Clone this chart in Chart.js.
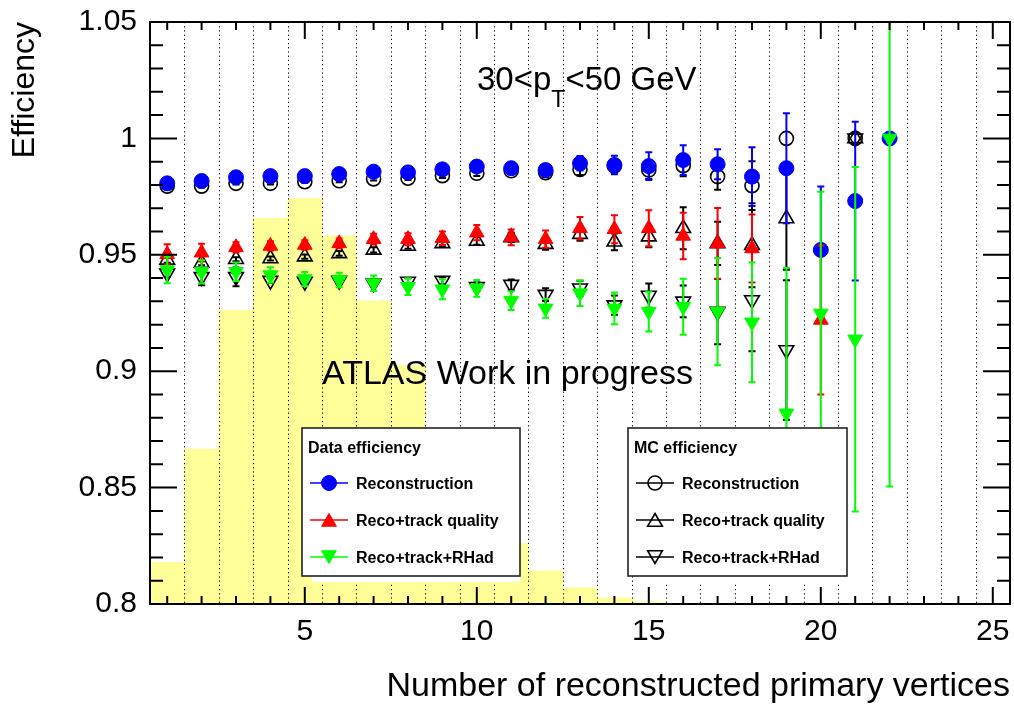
<!DOCTYPE html>
<html>
<head>
<meta charset="utf-8">
<script src="https://cdn.jsdelivr.net/npm/chart.js@4.4.1/dist/chart.umd.min.js"></script>
<style>
html, body { margin: 0; padding: 0; background: #fff; }
</style>
</head>
<body>
<canvas id="Plot" width="1014" height="707"></canvas>
<script>
// number of reconstructed primary vertices
var nvtx = [1,2,3,4,5,6,7,8,9,10,11,12,13,14,15,16,17,18,19,20,21,22];

// yellow background histogram (drawn in efficiency units, like on the plot)
var histBins = [1,2,3,4,5,6,7,8,9,10,11,12,13,14,15];
var histVal = [0.8179,0.8666,0.9263,0.9657,0.9741,0.9581,0.9302,0.9025,0.862,0.843,0.826,0.8142,0.8070,0.8027,0.8009];

// data efficiency
var dataReco = [0.9807,0.9817,0.9833,0.9838,0.9838,0.9847,0.9857,0.9854,0.9867,0.9879,0.9872,0.9864,0.9893,0.9886,0.9881,0.9907,0.9889,0.9836,0.9872,0.9521,0.9731,1.0];
var dataRecoErr = [0.0015,0.0013,0.0012,0.0012,0.0012,0.0013,0.0014,0.0015,0.0017,0.0019,0.0022,0.0026,0.0031,0.0040,0.0060,0.0064,0.0064,0.0126,0.0236,0.0272,0.0341,0];
var dataQual = [0.9502,0.9509,0.9532,0.9538,0.9542,0.9549,0.9567,0.9567,0.9571,0.9595,0.9575,0.9567,0.9614,0.9610,0.9614,0.9581,0.9549,0.9527,null,0.9220,null,null];
var dataQualErr = [0.0043,0.0038,0.0022,0.0020,0.0020,0.0021,0.0023,0.0026,0.0029,0.0033,0.0034,0.0037,0.0048,0.0060,0.0077,0.0100,0.0152,0.0146,null,0.0320,null,null];
var dataRhad = [0.9435,0.9427,0.9427,0.9413,0.9396,0.9392,0.9378,0.9363,0.9352,0.9356,0.9303,0.9270,0.9335,0.9270,0.9256,0.9277,0.9256,0.9210,0.8819,0.9248,0.9137,1.0];
var dataRhadErr = [0.0057,0.0050,0.0040,0.0033,0.0030,0.0031,0.0033,0.0036,0.0043,0.0036,0.0040,0.0040,0.0055,0.0068,0.0085,0.0120,0.0230,0.0257,0.0624,0.0523,0.0740,0.1495];

// MC efficiency
var mcReco = [0.9795,0.9795,0.9807,0.9807,0.9814,0.9818,0.9826,0.9829,0.9840,0.9850,0.9861,0.9853,0.9867,0.9881,0.9864,0.9883,0.9836,0.9797,1.0,null,1.0,null];
var mcRecoErr = [0.0008,0.0006,0.0005,0.0005,0.0005,0.0006,0.0007,0.0008,0.0010,0.0012,0.0015,0.0019,0.0024,0.0030,0.0038,0.0046,0.0057,0.0105,0,null,0,null];
var mcQual = [0.9478,0.9465,0.9481,0.9484,0.9492,0.9506,0.9521,0.9538,0.9549,0.9559,0.9575,0.9546,0.9589,0.9556,0.9578,0.9614,0.9549,0.9541,0.9656,null,1.0,null];
var mcQualErr = [0.0012,0.0010,0.0009,0.0009,0.0009,0.0010,0.0011,0.0012,0.0014,0.0016,0.0020,0.0024,0.0029,0.0036,0.0046,0.0090,0.0093,0.0180,0.0220,null,0,null];
var mcRhad = [0.9420,0.9405,0.9405,0.9389,0.9385,0.9389,0.9378,0.9385,0.9389,0.9363,0.9372,0.9329,0.9356,0.9284,0.9325,0.9300,0.9256,0.9306,0.9091,null,1.0,null];
var mcRhadErr = [0.0014,0.0036,0.0040,0.0010,0.0011,0.0012,0.0013,0.0014,0.0016,0.0018,0.0022,0.0027,0.0033,0.0041,0.0052,0.0068,0.0140,0.0220,0.0300,null,0,null];

var xTickLabels = [5,10,15,20,25];
var yTickLabels = [0.8,0.85,0.9,0.95,1,1.05];

var FONT = "'Liberation Sans', Arial, Helvetica, sans-serif";

function points(vals, errs){
  var out = [];
  for (var i = 0; i < vals.length; i++) {
    if (vals[i] === null) continue;
    out.push({x: nvtx[i], y: vals[i], e: errs[i]});
  }
  return out;
}

function series(vals, errs, color, style, rot, filled, order, radius){
  return {
    type: 'line',
    data: points(vals, errs),
    showLine: false,
    order: order,
    errColor: color,
    pointStyle: style,
    pointRotation: rot,
    pointRadius: radius,
    pointHoverRadius: radius,
    pointBackgroundColor: filled ? color : 'rgba(0,0,0,0)',
    pointBorderColor: color,
    pointBorderWidth: filled ? 1 : 1.6
  };
}

function drawMarker(ctx, style, x, y, r, rot, fill, stroke, lw){
  ctx.save();
  ctx.beginPath();
  if (style === 'circle') {
    ctx.arc(x, y, r, 0, Math.PI*2);
  } else {
    var a = rot*Math.PI/180;
    for (var k = 0; k < 3; k++) {
      var px = x + Math.sin(a)*r, py = y - Math.cos(a)*r;
      if (k === 0) ctx.moveTo(px, py); else ctx.lineTo(px, py);
      a += Math.PI*2/3;
    }
    ctx.closePath();
  }
  if (fill) { ctx.fillStyle = fill; ctx.fill(); }
  ctx.lineWidth = lw;
  ctx.strokeStyle = stroke;
  ctx.stroke();
  ctx.restore();
}

// no extra room for overhanging labels, the frame sits where ROOT put it
function noPad(s){
  s.paddingTop = 0; s.paddingBottom = 0; s.paddingLeft = 0; s.paddingRight = 0;
}

// error bars under each graph's markers
var errorBars = {
  id: 'errorBars',
  beforeDatasetDraw: function(chart, args){
    var ds = chart.data.datasets[args.index];
    if (!ds.errColor) return;
    var ctx = chart.ctx, a = chart.chartArea;
    var xs = chart.scales.x, ys = chart.scales.y;
    ctx.save();
    ctx.beginPath();
    ctx.rect(a.left, a.top, a.right - a.left, a.bottom - a.top);
    ctx.clip();
    ctx.strokeStyle = ds.errColor;
    ctx.lineWidth = 2;
    ds.data.forEach(function(p){
      if (!p.e) return;
      var px = xs.getPixelForValue(p.x);
      var y1 = ys.getPixelForValue(p.y + p.e), y2 = ys.getPixelForValue(p.y - p.e);
      ctx.beginPath();
      ctx.moveTo(px, y1); ctx.lineTo(px, y2);
      ctx.moveTo(px - 3.5, y1); ctx.lineTo(px + 3.5, y1);
      ctx.moveTo(px - 3.5, y2); ctx.lineTo(px + 3.5, y2);
      ctx.stroke();
    });
    ctx.restore();
  },
  // dotted lines at the bin edges, on top of the histogram
  afterDatasetDraw: function(chart, args){
    if (chart.data.datasets[args.index].type !== 'bar') return;
    var ctx = chart.ctx, a = chart.chartArea, xs = chart.scales.x;
    ctx.save();
    ctx.strokeStyle = '#000';
    ctx.lineWidth = 1;
    ctx.setLineDash([1.2, 3]);
    for (var v = 1.5; v < 25.5; v += 1) {
      var px = Math.round(xs.getPixelForValue(v)) + 0.5;
      ctx.beginPath();
      ctx.moveTo(px, a.top); ctx.lineTo(px, a.bottom);
      ctx.stroke();
    }
    ctx.restore();
  }
};

function legendBox(ctx, x, y, w, h, title, entries){
  ctx.save();
  ctx.fillStyle = '#fff';
  ctx.fillRect(x + 10, y + h, w - 10, 6);
  ctx.fillRect(x, y, w, h);
  ctx.strokeStyle = '#222';
  ctx.lineWidth = 1.6;
  ctx.strokeRect(x, y, w, h);
  ctx.fillStyle = '#000';
  ctx.font = 'bold 16px ' + FONT;
  ctx.textBaseline = 'alphabetic';
  ctx.fillText(title, x + 6, y + 25);
  entries.forEach(function(en, i){
    var cy = y + 55 + i*37;
    ctx.strokeStyle = en.color;
    ctx.lineWidth = 1.3;
    ctx.beginPath();
    ctx.moveTo(x + 8, cy); ctx.lineTo(x + 46, cy);
    ctx.stroke();
    var my = en.style === 'circle' ? cy : cy + (en.rot ? -2 : 2);
    drawMarker(ctx, en.style, x + 27, my, en.r, en.rot, en.fill ? en.color : null, en.color, en.fill ? 1 : 1.6);
    ctx.fillStyle = '#000';
    ctx.font = 'bold 16px ' + FONT;
    ctx.fillText(en.label, x + 54, cy + 6);
  });
  ctx.restore();
}

var decorations = {
  id: 'decorations',
  afterDraw: function(chart){
    var ctx = chart.ctx, a = chart.chartArea;
    var xs = chart.scales.x, ys = chart.scales.y;
    ctx.save();
    // frame
    ctx.strokeStyle = '#000';
    ctx.lineWidth = 2;
    ctx.strokeRect(a.left, a.top, a.right - a.left, a.bottom - a.top);
    // inward ticks
    ctx.lineWidth = 2;
    ctx.beginPath();
    for (var i = 1; i <= 25; i++) {
      var px = xs.getPixelForValue(i), len = (i % 5 === 0) ? 17 : 8;
      ctx.moveTo(px, a.bottom); ctx.lineTo(px, a.bottom - len);
      ctx.moveTo(px, a.top); ctx.lineTo(px, a.top + len);
    }
    for (var k = 0; k <= 25; k++) {
      var py = ys.getPixelForValue(0.8 + k*0.01), l2 = (k % 5 === 0) ? 27 : 13;
      ctx.moveTo(a.left, py); ctx.lineTo(a.left + l2, py);
      ctx.moveTo(a.right, py); ctx.lineTo(a.right - l2, py);
    }
    ctx.stroke();

    // texts
    ctx.fillStyle = '#000';
    ctx.textBaseline = 'alphabetic';
    ctx.font = '33px ' + FONT;
    var t1 = '30<p';
    ctx.fillText(t1, 477, 90);
    var w1 = ctx.measureText(t1).width;
    ctx.font = '23px ' + FONT;
    ctx.fillText('T', 477 + w1, 107);
    var w2 = ctx.measureText('T').width;
    ctx.font = '33px ' + FONT;
    ctx.fillText('<50 GeV', 477 + w1 + w2, 90);
    ctx.font = '34px ' + FONT;
    ctx.fillText('ATLAS Work in progress', 322, 384);
    ctx.restore();

    legendBox(ctx, 302, 428, 218, 148, 'Data efficiency', [
      {label: 'Reconstruction', style: 'circle', rot: 0, r: 7.5, color: '#0000ff', fill: true},
      {label: 'Reco+track quality', style: 'triangle', rot: 0, r: 8.5, color: '#ff0000', fill: true},
      {label: 'Reco+track+RHad', style: 'triangle', rot: 180, r: 8.5, color: '#00ff00', fill: true}
    ]);
    legendBox(ctx, 628, 428, 219, 148, 'MC efficiency', [
      {label: 'Reconstruction', style: 'circle', rot: 0, r: 7, color: '#000', fill: false},
      {label: 'Reco+track quality', style: 'triangle', rot: 0, r: 8.5, color: '#000', fill: false},
      {label: 'Reco+track+RHad', style: 'triangle', rot: 180, r: 8.5, color: '#000', fill: false}
    ]);
  }
};

var ctx = document.getElementById('Plot').getContext('2d');

var myChart = new Chart(ctx, {
  type: 'bar',
  data: {
    datasets: [
      {
        type: 'bar',
        data: histBins.map(function(b, i){ return {x: b, y: [0.8, histVal[i]]}; }),
        backgroundColor: 'rgb(255,255,153)',
        borderWidth: 0,
        barPercentage: 1,
        categoryPercentage: 1,
        order: 10
      },
      series(mcReco, mcRecoErr, '#000000', 'circle', 0, false, 5, 7),
      series(mcQual, mcQualErr, '#000000', 'triangle', 0, false, 4, 8.5),
      series(mcRhad, mcRhadErr, '#000000', 'triangle', 180, false, 3, 8.5),
      series(dataReco, dataRecoErr, '#0000ff', 'circle', 0, true, 2, 7.5),
      series(dataQual, dataQualErr, '#ff0000', 'triangle', 0, true, 1, 8.5),
      series(dataRhad, dataRhadErr, '#00ff00', 'triangle', 180, true, 0, 8.5)
    ]
  },
  options: {
    responsive: false,
    animation: false,
    events: [],
    layout: { autoPadding: false, padding: { top: 22, right: 4, left: 0, bottom: 0 } },
    plugins: {
      legend: { display: false },
      tooltip: { enabled: false }
    },
    scales: {
      x: {
        type: 'linear',
        min: 0.5,
        max: 25.5,
        offset: false,
        grid: { display: false, drawTicks: false },
        border: { display: false },
        afterBuildTicks: function(s){ s.ticks = xTickLabels.map(function(v){ return {value: v}; }); },
        afterFit: function(s){ s.height = 103; noPad(s); },
        ticks: {
          autoSkip: false,
          maxRotation: 0,
          padding: 10,
          color: '#000',
          font: { family: FONT, size: 30 },
          callback: function(v){ return String(v); }
        },
        title: {
          display: true,
          text: 'Number of reconstructed primary vertices',
          align: 'end',
          color: '#000',
          font: { family: FONT, size: 34 },
          padding: { top: 0, bottom: 0 }
        }
      },
      y: {
        type: 'linear',
        min: 0.8,
        max: 1.05,
        grid: { display: false, drawTicks: false },
        border: { display: false },
        afterBuildTicks: function(s){ s.ticks = yTickLabels.map(function(v){ return {value: v}; }); },
        afterFit: function(s){ s.width = 150; noPad(s); },
        ticks: {
          padding: 13,
          color: '#000',
          font: { family: FONT, size: 30 },
          callback: function(v){ return String(+v.toFixed(2)); }
        },
        title: {
          display: true,
          text: 'Efficiency',
          align: 'end',
          color: '#000',
          font: { family: FONT, size: 32 },
          padding: { top: 6, bottom: 0 }
        }
      }
    }
  },
  plugins: [errorBars, decorations]
});
</script>
</body>
</html>
